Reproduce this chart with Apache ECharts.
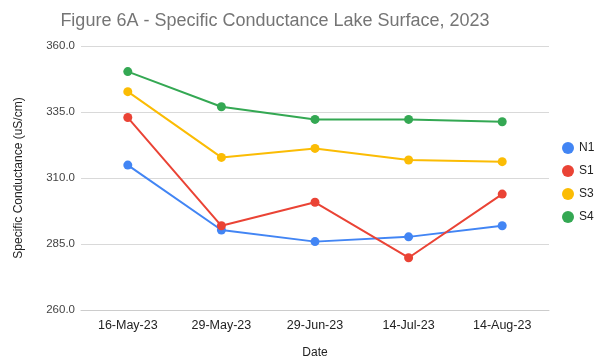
<!DOCTYPE html>
<html>
<head>
<meta charset="utf-8">
<script src="https://cdn.jsdelivr.net/npm/echarts@6/dist/echarts.min.js"></script>
<style>
  html, body { margin: 0; padding: 0; background: #fff; }
  #chart { width: 613px; height: 364px; }
</style>
</head>
<body>
<div id="chart"></div>
<script>
// Sampling dates
const dates = ['16-May-23', '29-May-23', '29-Jun-23', '14-Jul-23', '14-Aug-23'];

// Specific conductance (uS/cm) per station
const n1 = [314.9, 290.3, 285.9, 287.7, 291.9];
const s1 = [332.9, 291.9, 300.8, 279.8, 303.9];
const s3 = [342.7, 317.8, 321.2, 316.8, 316.2];
const s4 = [350.3, 337.0, 332.2, 332.2, 331.3];

const stations = [
  { name: 'N1', data: n1, color: '#4285F4' },
  { name: 'S1', data: s1, color: '#EA4335' },
  { name: 'S3', data: s3, color: '#FBBC04' },
  { name: 'S4', data: s4, color: '#34A853' }
];

const font = '"Liberation Sans", Arial, sans-serif';
const chart = echarts.init(document.getElementById('chart'));

chart.setOption({
  animation: false,
  textStyle: { fontFamily: font },
  title: {
    text: 'Figure 6A - Specific Conductance Lake Surface, 2023',
    left: 270,
    textAlign: 'center',
    top: 7,
    textStyle: { fontFamily: font, fontSize: 18, fontWeight: 'normal', color: '#757575' }
  },
  legend: {
    orient: 'vertical',
    left: 557,
    top: 137,
    itemGap: 11,
    itemWidth: 12,
    itemHeight: 12,
    icon: 'circle',
    textStyle: { fontFamily: font, fontSize: 12, color: '#222' },
    data: stations.map(s => s.name)
  },
  grid: { left: 81, right: 64, top: 46, bottom: 54 },
  xAxis: {
    type: 'category',
    data: dates,
    boundaryGap: true,
    name: 'Date',
    nameLocation: 'middle',
    nameGap: 37,
    nameTextStyle: { fontFamily: font, fontSize: 12, color: '#222' },
    axisLine: { show: true, lineStyle: { color: '#cccccc' } },
    axisTick: { show: false },
    axisLabel: { fontFamily: font, fontSize: 12.5, color: '#222', margin: 9 }
  },
  yAxis: {
    type: 'value',
    min: 260,
    max: 360,
    interval: 25,
    name: 'Specific Conductance (uS/cm)',
    nameLocation: 'middle',
    nameGap: 56,
    nameTextStyle: { fontFamily: font, fontSize: 12, color: '#222' },
    axisLine: { show: false },
    axisTick: { show: false },
    axisLabel: { fontFamily: font, fontSize: 11.5, color: '#444', margin: 6, formatter: v => v.toFixed(1) },
    splitLine: { lineStyle: { color: '#d9d9d9' } }
  },
  series: stations.map(s => ({
    name: s.name,
    type: 'line',
    data: s.data,
    symbol: 'circle',
    symbolSize: 9,
    itemStyle: { color: s.color },
    lineStyle: { color: s.color, width: 2 }
  }))
});
</script>
</body>
</html>
